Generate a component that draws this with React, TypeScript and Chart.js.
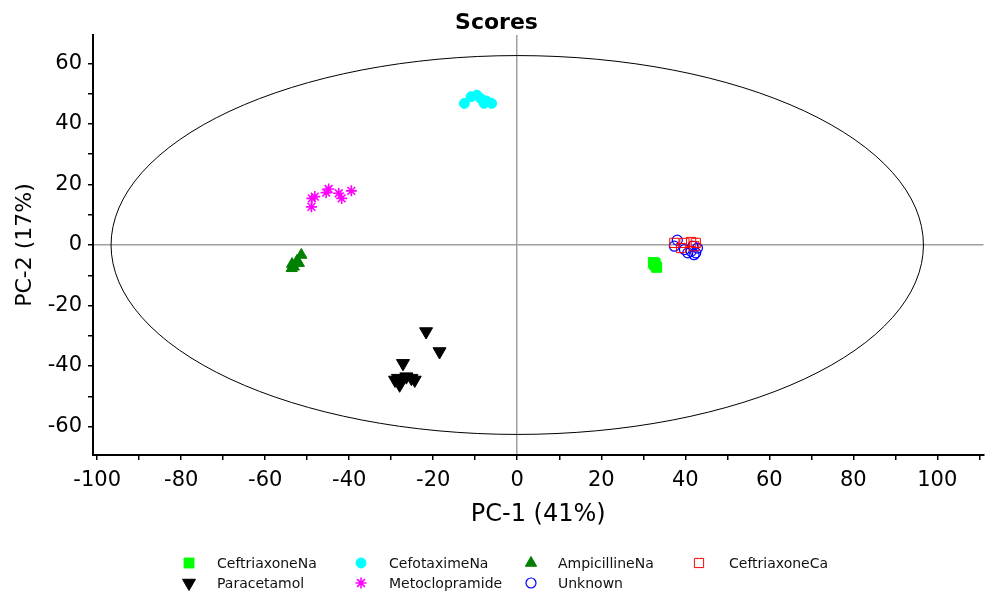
import React, { useEffect, useRef } from 'react';
import { Chart, registerables } from 'chart.js';

Chart.register(...registerables);

const FONT = "'DejaVu Sans', 'Liberation Sans', sans-serif";

// ---- Data ----
const chartTitle = 'Scores';
const xAxisTitle = 'PC-1 (41%)';
const yAxisTitle = 'PC-2 (17%)';

const ceftriaxoneNaX = [32.4, 32.6, 33.0, 33.2, 32.8];
const ceftriaxoneNaY = [-5.8, -6.4, -6.9, -7.4, -6.0];

const cefotaximeNaX = [-12.6, -11.0, -9.6, -8.7, -7.9, -6.1, -7.3];
const cefotaximeNaY = [46.8, 49.0, 49.5, 48.4, 46.8, 46.8, 47.6];

const ampicillineNaX = [-53.6, -53.2, -52.4, -51.4, -52.0, -53.7];
const ampicillineNaY = [-6.3, -7.2, -5.2, -3.3, -6.0, -7.7];

const ceftriaxoneCaX = [37.4, 39.8, 41.4, 42.5, 39.0, 42.1];
const ceftriaxoneCaY = [0.7, 0.7, 1.0, 0.7, -1.0, -0.4];

const paracetamolX = [-21.7, -18.5, -27.2, -28.4, -27.6, -25.2, -24.4, -26.4, -29.1, -28.0];
const paracetamolY = [-28.6, -35.2, -39.1, -44.0, -45.1, -44.0, -44.6, -43.5, -44.6, -46.2];

const metoclopramideX = [-48.9, -48.2, -49.0, -45.5, -44.9, -42.5, -41.8, -39.5];
const metoclopramideY = [15.4, 16.0, 12.6, 17.3, 18.5, 17.1, 15.4, 17.9];

const unknownX = [38.1, 37.4, 39.8, 41.4, 42.5, 42.9, 41.8, 40.6, 42.1];
const unknownY = [1.6, -0.4, -1.5, -2.1, -2.6, -1.0, -0.4, -2.6, -3.2];

// Hotelling ellipse semi-axes (data units)
const ELLIPSE_A = 96.7;
const ELLIPSE_B = 62.6;

// Axis ranges / ticks
const X_MIN = -101;
const X_MAX = 111;
const Y_MIN = -69.4;
const Y_MAX = 69.4;
const TICK_STEP = 10;
const LABEL_STEP = 20;

// ---- Styles ----
type MarkerStyle = {
  name: string;
  pointStyle: 'circle' | 'rect' | 'triangle' | 'star';
  radius: number;
  rotation: number;
  fill: string | null;
  stroke: string;
  lineWidth: number;
};

const seriesStyles: MarkerStyle[] = [
  { name: 'CeftriaxoneNa', pointStyle: 'rect', radius: 7, rotation: 0, fill: '#00ff00', stroke: '#00ff00', lineWidth: 1 },
  { name: 'CefotaximeNa', pointStyle: 'circle', radius: 5, rotation: 0, fill: '#00ffff', stroke: '#00ffff', lineWidth: 1 },
  { name: 'AmpicillineNa', pointStyle: 'triangle', radius: 6.5, rotation: 0, fill: '#008000', stroke: '#008000', lineWidth: 1 },
  { name: 'CeftriaxoneCa', pointStyle: 'rect', radius: 6.5, rotation: 0, fill: null, stroke: '#ff0000', lineWidth: 1 },
  { name: 'Paracetamol', pointStyle: 'triangle', radius: 7.5, rotation: 180, fill: '#000000', stroke: '#000000', lineWidth: 1 },
  { name: 'Metoclopramide', pointStyle: 'star', radius: 5.5, rotation: 0, fill: null, stroke: '#ff00ff', lineWidth: 1.6 },
  { name: 'Unknown', pointStyle: 'circle', radius: 5, rotation: 0, fill: null, stroke: '#0000ff', lineWidth: 1.2 },
];

const seriesX = [ceftriaxoneNaX, cefotaximeNaX, ampicillineNaX, ceftriaxoneCaX, paracetamolX, metoclopramideX, unknownX];
const seriesY = [ceftriaxoneNaY, cefotaximeNaY, ampicillineNaY, ceftriaxoneCaY, paracetamolY, metoclopramideY, unknownY];

// Legend layout (grid of 4 columns)
const LEGEND_MARKER_X = [189, 361, 531, 699];
const LEGEND_TEXT_X = [217, 389, 558, 729];
const LEGEND_ROW_Y = [563, 583];

function drawMarker(ctx: CanvasRenderingContext2D, s: MarkerStyle, x: number, y: number) {
  const r = s.radius;
  ctx.save();
  ctx.translate(x, y);
  ctx.rotate((s.rotation * Math.PI) / 180);
  ctx.beginPath();
  if (s.pointStyle === 'circle') {
    ctx.arc(0, 0, r, 0, Math.PI * 2);
  } else if (s.pointStyle === 'rect') {
    const h = r * Math.SQRT1_2;
    ctx.rect(-h, -h, 2 * h, 2 * h);
  } else if (s.pointStyle === 'triangle') {
    let a = 0;
    ctx.moveTo(Math.sin(a) * r, -Math.cos(a) * r);
    a += (2 * Math.PI) / 3;
    ctx.lineTo(Math.sin(a) * r, -Math.cos(a) * r);
    a += (2 * Math.PI) / 3;
    ctx.lineTo(Math.sin(a) * r, -Math.cos(a) * r);
    ctx.closePath();
  } else if (s.pointStyle === 'star') {
    const d = r * Math.SQRT1_2;
    ctx.moveTo(-r, 0); ctx.lineTo(r, 0);
    ctx.moveTo(0, -r); ctx.lineTo(0, r);
    ctx.moveTo(-d, -d); ctx.lineTo(d, d);
    ctx.moveTo(-d, d); ctx.lineTo(d, -d);
  }
  if (s.fill) {
    ctx.fillStyle = s.fill;
    ctx.fill();
  }
  ctx.strokeStyle = s.stroke;
  ctx.lineWidth = s.lineWidth;
  ctx.stroke();
  ctx.restore();
}

const ellipsePlugin = {
  id: 'hotellingEllipse',
  beforeDatasetsDraw(chart: any) {
    const { ctx, scales, chartArea } = chart;
    const xs = scales.x;
    const ys = scales.y;
    const cx = xs.getPixelForValue(0);
    const cy = ys.getPixelForValue(0);
    const rx = xs.getPixelForValue(ELLIPSE_A) - cx;
    const ry = cy - ys.getPixelForValue(ELLIPSE_B);
    ctx.save();
    ctx.beginPath();
    ctx.rect(chartArea.left, chartArea.top, chartArea.right - chartArea.left, chartArea.bottom - chartArea.top);
    ctx.clip();
    ctx.beginPath();
    ctx.ellipse(cx, cy, rx, ry, 0, 0, Math.PI * 2);
    ctx.strokeStyle = '#000';
    ctx.lineWidth = 1;
    ctx.stroke();
    ctx.restore();
  },
};

const gridLegendPlugin = {
  id: 'gridLegend',
  afterDraw(chart: any) {
    const ctx: CanvasRenderingContext2D = chart.ctx;
    ctx.save();
    ctx.font = `14px ${FONT}`;
    ctx.textBaseline = 'middle';
    ctx.textAlign = 'left';
    seriesStyles.forEach((s, i) => {
      const row = Math.floor(i / 4);
      const col = i % 4;
      const y = LEGEND_ROW_Y[row];
      drawMarker(ctx, s, LEGEND_MARKER_X[col], y);
      ctx.fillStyle = '#111';
      ctx.fillText(s.name, LEGEND_TEXT_X[col], y + 1);
    });
    ctx.restore();
  },
};

const tickLabel = (v: any) => {
  const n = Number(v);
  return Math.abs(n % LABEL_STEP) < 1e-9 ? String(n) : '';
};

const keepStepTicks = (scale: any) => {
  scale.ticks = scale.ticks.filter((t: any) => Math.abs(t.value % TICK_STEP) < 1e-9);
};

const zeroColor = (c: any) => (c.tick && c.tick.value === 0 ? '#a0a0a0' : 'rgba(0,0,0,0)');

export default function App() {
  const canvasRef = useRef<HTMLCanvasElement | null>(null);

  useEffect(() => {
    if (!canvasRef.current) return;
    const datasets = seriesStyles.map((s, i) => ({
      label: s.name,
      data: seriesX[i].map((x, j) => ({ x, y: seriesY[i][j] })),
      pointStyle: s.pointStyle,
      pointRadius: s.radius,
      rotation: s.rotation,
      backgroundColor: s.fill ?? 'rgba(0,0,0,0)',
      borderColor: s.stroke,
      borderWidth: s.lineWidth,
      showLine: false,
    }));

    const chart = new Chart(canvasRef.current, {
      type: 'scatter',
      data: { datasets },
      plugins: [ellipsePlugin, gridLegendPlugin],
      options: {
        animation: false,
        responsive: false,
        layout: { padding: { left: 0, right: -1, top: 0, bottom: 56 } },
        plugins: {
          legend: { display: false },
          tooltip: { enabled: false },
          title: {
            display: true,
            text: chartTitle,
            color: '#000',
            font: { family: FONT, size: 22, weight: 'bold', lineHeight: 1 },
            padding: { top: 12, bottom: 1 },
          },
        },
        scales: {
          x: {
            type: 'linear',
            min: X_MIN,
            max: X_MAX,
            afterBuildTicks: keepStepTicks,
            afterFit: (scale: any) => {
              scale.height = 80;
              scale.paddingLeft = 0;
              scale.paddingRight = 0;
            },
            ticks: {
              stepSize: TICK_STEP,
              includeBounds: false,
              autoSkip: false,
              maxRotation: 0,
              minRotation: 0,
              padding: 8,
              color: '#000',
              font: { family: FONT, size: 21 },
              callback: tickLabel,
            },
            grid: {
              color: zeroColor,
              lineWidth: 1.5,
              tickColor: '#000',
              tickLength: 5,
              tickWidth: 1.5,
              drawTicks: true,
            },
            border: { display: true, color: '#000', width: 2 },
            title: {
              display: true,
              text: xAxisTitle,
              color: '#000',
              font: { family: FONT, size: 24 },
              padding: { top: 4, bottom: 6 },
            },
          },
          y: {
            type: 'linear',
            min: Y_MIN,
            max: Y_MAX,
            afterBuildTicks: keepStepTicks,
            afterFit: (scale: any) => {
              scale.width = 93;
              scale.paddingTop = 0;
              scale.paddingBottom = 0;
            },
            ticks: {
              stepSize: TICK_STEP,
              includeBounds: false,
              autoSkip: false,
              padding: 6,
              color: '#000',
              font: { family: FONT, size: 21 },
              callback: tickLabel,
            },
            grid: {
              color: zeroColor,
              lineWidth: 1.5,
              tickColor: '#000',
              tickLength: 5,
              tickWidth: 1.5,
              drawTicks: true,
            },
            border: { display: true, color: '#000', width: 2 },
            title: {
              display: true,
              text: yAxisTitle,
              color: '#000',
              font: { family: FONT, size: 22 },
              padding: { top: 12, bottom: 0 },
            },
          },
        },
      } as any,
    });

    return () => chart.destroy();
  }, []);

  return (
    <div style={{ position: 'absolute', left: 0, top: 0, width: 992, height: 591, background: '#fff' }}>
      <canvas ref={canvasRef} width={992} height={591} style={{ display: 'block' }} />
    </div>
  );
}
